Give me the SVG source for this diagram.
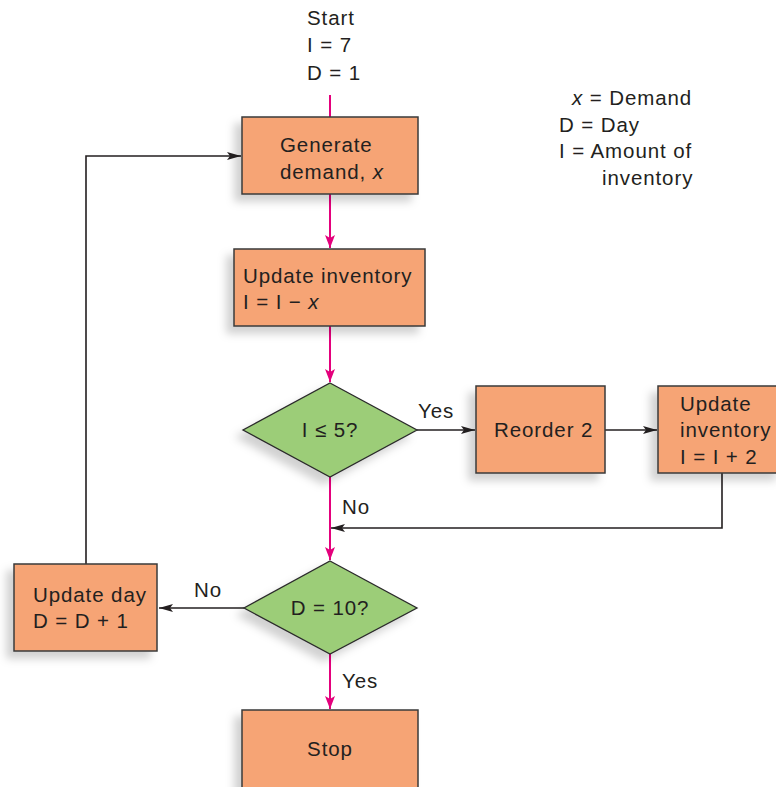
<svg xmlns="http://www.w3.org/2000/svg" width="776" height="787" viewBox="0 0 776 787">
  <style>
    .box { fill: #F6A475; stroke: #3a3a3a; stroke-width: 1.5; filter: url(#shade); }
    .dec { fill: #9CCD78; stroke: #2a2a2a; stroke-width: 1.3; filter: url(#shade); }
    .t { font-family: "Liberation Sans", Arial, sans-serif; font-size: 20.5px; letter-spacing: 0.9px; fill: #231f20; }
    .mid { text-anchor: middle; }
    .flow { stroke: #E4007C; stroke-width: 2; fill: none; }
    .ctl { stroke: #231f20; stroke-width: 1.6; fill: none; }
  </style>
  <defs>
    <filter id="shade" x="-20%" y="-20%" width="140%" height="150%">
      <feDropShadow dx="-7" dy="7" stdDeviation="4" flood-color="#000" flood-opacity="0.18"/>
    </filter>
    <marker id="pink" viewBox="0 0 13 10" refX="13" refY="5" markerWidth="13" markerHeight="10" markerUnits="userSpaceOnUse" orient="auto">
      <path d="M0,0 L13,5 L0,10 L3,5 Z" fill="#E4007C"/>
    </marker>
    <marker id="blk" viewBox="0 0 14 10" refX="14" refY="5" markerWidth="14" markerHeight="10" markerUnits="userSpaceOnUse" orient="auto">
      <path d="M0,1 L14,5 L0,9 L3,5 Z" fill="#231f20"/>
    </marker>
  </defs>

  <!-- start conditions -->
  <g id="start">
    <text class="t" x="307" y="25">Start</text>
    <text class="t" x="307" y="52">I = 7</text>
    <text class="t" x="307" y="80">D = 1</text>
  </g>

  <!-- legend -->
  <g id="legend">
    <text class="t" x="572" y="105"><tspan font-style="italic">x</tspan> = Demand</text>
    <text class="t" x="559" y="132">D = Day</text>
    <text class="t" x="559" y="158">I = Amount of</text>
    <text class="t" x="602" y="185">inventory</text>
  </g>

  <!-- connectors -->
  <g id="connectors">
    <line class="flow" x1="330" y1="95" x2="330" y2="117"/>
    <line class="flow" x1="330" y1="194" x2="330" y2="248" marker-end="url(#pink)"/>
    <line class="flow" x1="330" y1="326" x2="330" y2="382" marker-end="url(#pink)"/>
    <line class="flow" x1="330" y1="477" x2="330" y2="560" marker-end="url(#pink)"/>
    <line class="flow" x1="330" y1="654" x2="330" y2="709" marker-end="url(#pink)"/>
    <line class="ctl" x1="417" y1="430" x2="475" y2="430" marker-end="url(#blk)"/>
    <line class="ctl" x1="605" y1="430" x2="657" y2="430" marker-end="url(#blk)"/>
    <polyline class="ctl" points="722,473 722,528 331,528" marker-end="url(#blk)"/>
    <line class="ctl" x1="244" y1="608" x2="159" y2="608" marker-end="url(#blk)"/>
    <polyline class="ctl" points="86,564 86,156 241,156" marker-end="url(#blk)"/>
    <text class="t" x="418" y="418">Yes</text>
    <text class="t" x="342" y="514">No</text>
    <text class="t" x="194" y="597">No</text>
    <text class="t" x="342" y="688">Yes</text>
  </g>

  <g id="generate">
    <rect class="box" x="242" y="117" width="176" height="77"/>
    <text class="t" x="280" y="152">Generate</text>
    <text class="t" x="280" y="179">demand, <tspan font-style="italic">x</tspan></text>
  </g>

  <g id="update-inv">
    <rect class="box" x="234" y="249" width="191" height="77"/>
    <text class="t" x="243" y="283">Update inventory</text>
    <text class="t" x="243" y="309">I = I − <tspan font-style="italic">x</tspan></text>
  </g>

  <g id="check-inv">
    <polygon class="dec" points="330,383 417,430 330,477 243,430"/>
    <text class="t mid" x="330" y="437">I ≤ 5?</text>
  </g>

  <g id="reorder">
    <rect class="box" x="476" y="386" width="129" height="87"/>
    <text class="t" x="494" y="437">Reorder 2</text>
  </g>

  <g id="restock">
    <rect class="box" x="658" y="386" width="124" height="87"/>
    <text class="t" x="680" y="411">Update</text>
    <text class="t" x="680" y="437">inventory</text>
    <text class="t" x="680" y="464">I = I + 2</text>
  </g>

  <g id="check-day">
    <polygon class="dec" points="330,561 417,608 330,654 244,608"/>
    <text class="t mid" x="330" y="615">D = 10?</text>
  </g>

  <g id="update-day">
    <rect class="box" x="14" y="564" width="143" height="87"/>
    <text class="t" x="33" y="602">Update day</text>
    <text class="t" x="33" y="628">D = D + 1</text>
  </g>

  <g id="stop">
    <rect class="box" x="242" y="710" width="176" height="80"/>
    <text class="t mid" x="330" y="756">Stop</text>
  </g>
</svg>
